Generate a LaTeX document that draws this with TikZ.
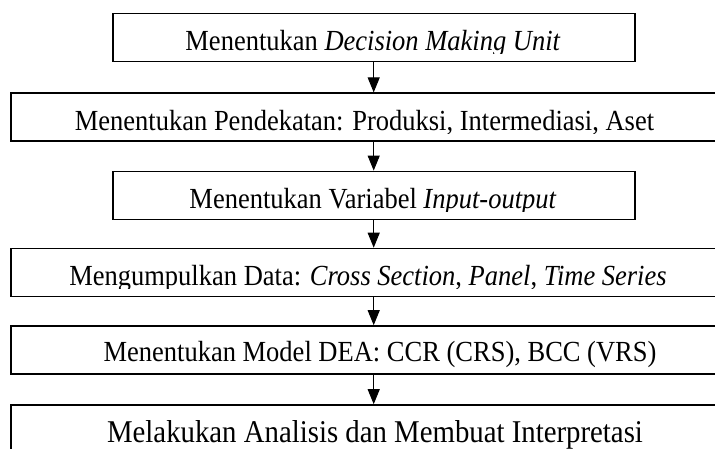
\documentclass[tikz,border=0pt]{standalone}
\usepackage{fontspec}
\usepackage{graphicx}
\setmainfont{Liberation Serif}
\usetikzlibrary{arrows.meta}
\newcommand{\tallt}[1]{\scalebox{1}[1.1]{#1}}
\begin{document}
\begin{tikzpicture}[x=1pt,y=1pt,
  box/.style={draw,line width=1.6pt,inner sep=0pt,minimum height=48pt},
  narrow/.style={box,minimum width=522pt},
  wide/.style={box,minimum width=726pt},
  txt/.style={font=\fontsize{26.5}{30}\selectfont,inner sep=0pt,anchor=base},
  arr/.style={line width=1pt,-{Triangle[width=12pt,length=15pt]}}]
\useasboundingbox (0,0) rectangle (715,-448);
\clip (0,0) rectangle (715,-448);
\node[narrow] (b1) at (373.7,-37.6) {};
\node[wide]   (b2) at (373.7,-117.2) {};
\node[narrow] (b3) at (373.7,-195.4) {};
\node[wide]   (b4) at (373.7,-272.5) {};
\node[wide]   (b5) at (373.7,-350) {};
\node[wide]   (b6) at (373.7,-429) {};
\draw[arr] (b1.south) -- (b2.north);
\draw[arr] (b2.south) -- (b3.north);
\draw[arr] (b3.south) -- (b4.north);
\draw[arr] (b4.south) -- (b5.north);
\draw[arr] (b5.south) -- (b6.north);
\begin{scope}\clip (0,-14) rectangle (715,-53.5);
\node[txt] (t1) at (373,-50.5) {\tallt{Menentukan \textit{Decision Making Unit}}};
\end{scope}
\begin{scope}\clip (0,-94) rectangle (715,-133);
\node[txt] (t2) at (364.5,-130) {\tallt{Menentukan Pendekatan: Produksi, Intermediasi, Aset}};
\end{scope}
\begin{scope}\clip (0,-172) rectangle (715,-211);
\node[txt] (t3) at (373,-208) {\tallt{Menentukan Variabel \textit{Input-output}}};
\end{scope}
\begin{scope}\clip (0,-249) rectangle (715,-288);
\node[txt] (t4) at (368,-285) {\tallt{Mengumpulkan Data: \textit{Cross Section}, \textit{Panel}, \textit{Time Series}}};
\end{scope}
\begin{scope}\clip (0,-326) rectangle (715,-369);
\node[txt] (t5) at (380,-361.5) {\tallt{Menentukan Model DEA: CCR (CRS), BCC (VRS)}};
\end{scope}
\node[txt,font=\fontsize{28.8}{32}\selectfont] (t6) at (375,-442) {\tallt{Melakukan Analisis dan Membuat Interpretasi}};
\end{tikzpicture}
\end{document}
